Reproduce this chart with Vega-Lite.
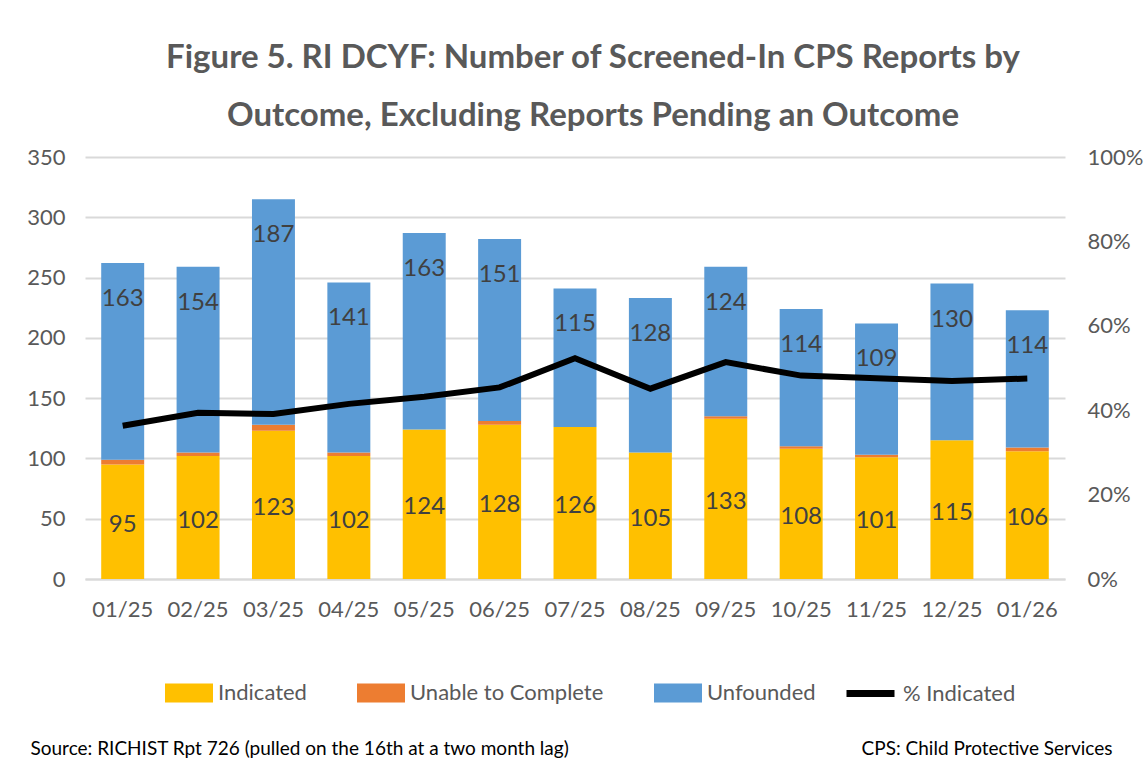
{
  "$schema": "https://vega.github.io/schema/vega-lite/v6.json",
  "width": 980,
  "height": 422,
  "autosize": "none",
  "padding": {"left": 85, "top": 157, "right": 81, "bottom": 187},
  "background": "white",
  "title": {
    "text": ["Figure 5. RI DCYF: Number of Screened-In CPS Reports by", "Outcome, Excluding Reports Pending an Outcome"],
    "font": "Lato",
    "fontSize": 33,
    "fontWeight": "bold",
    "color": "#595959",
    "lineHeight": 58,
    "anchor": "middle",
    "offset": 13,
    "dx": 18
  },
  "config": {
    "font": "Lato",
    "view": {"stroke": null}
  },
  "datasets": {
    "bars": [
      {"month": "01/25", "outcome": "Indicated", "ord": 1, "count": 95},
      {"month": "01/25", "outcome": "Unable to Complete", "ord": 2, "count": 4},
      {"month": "01/25", "outcome": "Unfounded", "ord": 3, "count": 163},
      {"month": "02/25", "outcome": "Indicated", "ord": 1, "count": 102},
      {"month": "02/25", "outcome": "Unable to Complete", "ord": 2, "count": 3},
      {"month": "02/25", "outcome": "Unfounded", "ord": 3, "count": 154},
      {"month": "03/25", "outcome": "Indicated", "ord": 1, "count": 123},
      {"month": "03/25", "outcome": "Unable to Complete", "ord": 2, "count": 5},
      {"month": "03/25", "outcome": "Unfounded", "ord": 3, "count": 187},
      {"month": "04/25", "outcome": "Indicated", "ord": 1, "count": 102},
      {"month": "04/25", "outcome": "Unable to Complete", "ord": 2, "count": 3},
      {"month": "04/25", "outcome": "Unfounded", "ord": 3, "count": 141},
      {"month": "05/25", "outcome": "Indicated", "ord": 1, "count": 124},
      {"month": "05/25", "outcome": "Unable to Complete", "ord": 2, "count": 0},
      {"month": "05/25", "outcome": "Unfounded", "ord": 3, "count": 163},
      {"month": "06/25", "outcome": "Indicated", "ord": 1, "count": 128},
      {"month": "06/25", "outcome": "Unable to Complete", "ord": 2, "count": 3},
      {"month": "06/25", "outcome": "Unfounded", "ord": 3, "count": 151},
      {"month": "07/25", "outcome": "Indicated", "ord": 1, "count": 126},
      {"month": "07/25", "outcome": "Unable to Complete", "ord": 2, "count": 0},
      {"month": "07/25", "outcome": "Unfounded", "ord": 3, "count": 115},
      {"month": "08/25", "outcome": "Indicated", "ord": 1, "count": 105},
      {"month": "08/25", "outcome": "Unable to Complete", "ord": 2, "count": 0},
      {"month": "08/25", "outcome": "Unfounded", "ord": 3, "count": 128},
      {"month": "09/25", "outcome": "Indicated", "ord": 1, "count": 133},
      {"month": "09/25", "outcome": "Unable to Complete", "ord": 2, "count": 2},
      {"month": "09/25", "outcome": "Unfounded", "ord": 3, "count": 124},
      {"month": "10/25", "outcome": "Indicated", "ord": 1, "count": 108},
      {"month": "10/25", "outcome": "Unable to Complete", "ord": 2, "count": 2},
      {"month": "10/25", "outcome": "Unfounded", "ord": 3, "count": 114},
      {"month": "11/25", "outcome": "Indicated", "ord": 1, "count": 101},
      {"month": "11/25", "outcome": "Unable to Complete", "ord": 2, "count": 2},
      {"month": "11/25", "outcome": "Unfounded", "ord": 3, "count": 109},
      {"month": "12/25", "outcome": "Indicated", "ord": 1, "count": 115},
      {"month": "12/25", "outcome": "Unable to Complete", "ord": 2, "count": 0},
      {"month": "12/25", "outcome": "Unfounded", "ord": 3, "count": 130},
      {"month": "01/26", "outcome": "Indicated", "ord": 1, "count": 106},
      {"month": "01/26", "outcome": "Unable to Complete", "ord": 2, "count": 3},
      {"month": "01/26", "outcome": "Unfounded", "ord": 3, "count": 114}
    ],
    "pct": [
      {"month": "01/25", "pct": 0.363},
      {"month": "02/25", "pct": 0.394},
      {"month": "03/25", "pct": 0.391},
      {"month": "04/25", "pct": 0.415},
      {"month": "05/25", "pct": 0.432},
      {"month": "06/25", "pct": 0.454},
      {"month": "07/25", "pct": 0.523},
      {"month": "08/25", "pct": 0.451},
      {"month": "09/25", "pct": 0.514},
      {"month": "10/25", "pct": 0.482},
      {"month": "11/25", "pct": 0.476},
      {"month": "12/25", "pct": 0.469},
      {"month": "01/26", "pct": 0.475}
    ]
  },
  "encoding": {
    "x": {
      "field": "month",
      "type": "nominal",
      "sort": null,
      "scale": {"paddingInner": 0.43, "paddingOuter": 0.215},
      "axis": {
        "labelAngle": 0,
        "labelFontSize": 22,
        "labelColor": "#595959",
        "labelPadding": 20,
        "ticks": false,
        "domainColor": "#d9d9d9",
        "domainWidth": 2,
        "title": "Source: RICHIST Rpt 726 (pulled on the 16th at a two month lag)",
        "titleFont": "Lato",
        "titleFontSize": 19,
        "titleFontWeight": "normal",
        "titleColor": "#000000",
        "titleAnchor": "start",
        "titleAlign": "left",
        "titleBaseline": "middle",
        "titleX": -55,
        "titleY": 169
      }
    }
  },
  "layer": [
    {
      "layer": [
        {
          "data": {"name": "bars"},
          "mark": {"type": "bar"},
          "encoding": {
            "y": {
              "field": "count",
              "type": "quantitative",
              "stack": "zero",
              "title": null,
              "scale": {"domain": [0, 350]},
              "axis": {
                "values": [0, 50, 100, 150, 200, 250, 300, 350],
                "title": null,
                "domain": false,
                "ticks": false,
                "grid": true,
                "gridColor": "#d9d9d9",
                "gridWidth": 2,
                "labelFontSize": 22,
                "labelColor": "#595959",
                "labelPadding": 20
              }
            },
            "order": {"field": "ord"},
            "fill": {
              "field": "outcome",
              "type": "nominal",
              "scale": {
                "domain": ["Indicated", "Unable to Complete", "Unfounded"],
                "range": ["#FFC000", "#ED7D31", "#5B9BD5"]
              },
              "legend": {
                "title": null,
                "orient": "none",
                "direction": "horizontal",
                "legendX": 80,
                "legendY": 512,
                "symbolType": "M-1,-0.4H1V0.4H-1Z",
                "symbolSize": 2304,
                "symbolStrokeWidth": 0,
                "labelFontSize": 22,
                "labelColor": "#595959",
                "labelOffset": 5,
                "labelLimit": 0,
                "columnPadding": 50
              }
            }
          }
        },
        {
          "data": {"name": "bars"},
          "transform": [
            {"stack": "count", "groupby": ["month"], "sort": [{"field": "ord"}], "as": ["y0", "y1"]},
            {"filter": "datum.outcome === 'Indicated'"},
            {"fold": ["y0", "y1"], "as": ["edge", "edgeValue"]},
            {"aggregate": [{"op": "mean", "field": "edgeValue", "as": "mid"}], "groupby": ["month", "outcome", "count"]}
          ],
          "mark": {"type": "text", "fontSize": 24, "color": "#404040", "dy": 3},
          "encoding": {
            "y": {"field": "mid", "type": "quantitative", "title": null},
            "text": {"field": "count", "type": "quantitative"}
          }
        },
        {
          "data": {"name": "bars"},
          "transform": [
            {"stack": "count", "groupby": ["month"], "sort": [{"field": "ord"}], "as": ["y0", "y1"]},
            {"filter": "datum.outcome === 'Unfounded'"}
          ],
          "mark": {"type": "text", "fontSize": 24, "color": "#404040", "dy": 36},
          "encoding": {
            "y": {"field": "y1", "type": "quantitative", "title": null},
            "text": {"field": "count", "type": "quantitative"}
          }
        }
      ]
    },
    {
      "data": {"name": "pct"},
      "mark": {"type": "line", "strokeWidth": 6, "strokeJoin": "miter"},
      "encoding": {
        "y": {
          "field": "pct",
          "type": "quantitative",
          "scale": {"domain": [0, 1]},
          "axis": {
            "orient": "right",
            "format": ".0%",
            "values": [0, 0.2, 0.4, 0.6, 0.8, 1],
            "grid": false,
            "domain": false,
            "ticks": false,
            "labelFontSize": 22,
            "labelColor": "#595959",
            "labelPadding": 22,
            "title": "CPS: Child Protective Services",
            "titleFont": "Lato",
            "titleAngle": 0,
            "titleFontSize": 19,
            "titleFontWeight": "normal",
            "titleColor": "#000000",
            "titleAlign": "right",
            "titleBaseline": "middle",
            "titleX": 47,
            "titleY": 591
          }
        },
        "stroke": {
          "datum": "% Indicated",
          "type": "nominal",
          "scale": {"range": ["#000000"]},
          "legend": {
            "title": null,
            "orient": "none",
            "legendX": 758,
            "legendY": 509,
            "symbolType": "stroke",
            "symbolSize": 2304,
            "symbolStrokeWidth": 7,
            "labelFontSize": 22,
            "labelColor": "#595959",
            "labelOffset": 5,
            "labelLimit": 0
          }
        }
      }
    }
  ],
  "resolve": {"scale": {"y": "independent"}}
}
